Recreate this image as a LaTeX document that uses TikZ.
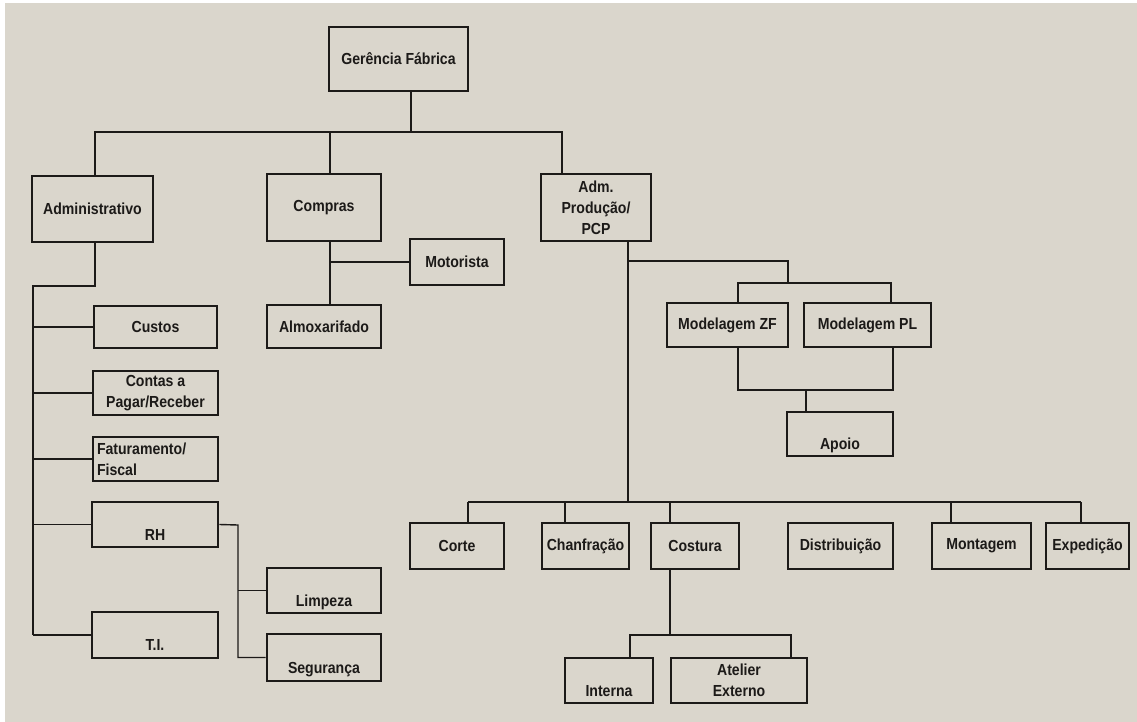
\documentclass[tikz,border=0pt]{standalone}
\usepackage{fontspec}
\setmainfont{Liberation Sans}[FakeStretch=0.88]
\usepackage{tikz}
\usetikzlibrary{calc,positioning}
\definecolor{paper}{RGB}{218,214,204}
\definecolor{ink}{RGB}{28,26,24}

\begin{document}
\begin{tikzpicture}[x=1pt, y=-1pt, lbl/.style={font=\bfseries\fontsize{16}{21}\selectfont, align=center, text=ink}]
\tikzstyle{box}=[draw=ink, line width=2.8pt, inner sep=3pt, lbl]
\tikzstyle{thin}=[box, line width=1.6pt]
\tikzstyle{low}=[text height=34pt, text depth=3pt]
\tikzstyle{wire}=[draw=ink, line width=1.4pt]
\useasboundingbox[fill=white] (0,0) rectangle (1137,722);
\fill[paper] (5,3) rectangle (1137,722);
\node[box, minimum width=139pt, minimum height=64pt] (ger) at (398.5,59){Gerência Fábrica};
\node[box, minimum width=121pt, minimum height=66pt] (adm) at (92.5,209){Administrativo};
\node[box, minimum width=114pt, minimum height=67pt] (com) at (324,207.5){Compras};
\node[thin, minimum width=110pt, minimum height=67pt] (pcp) at (596,207.5){Adm.\\Produção/\\PCP};
\node[box, minimum width=94pt, minimum height=46pt] (mot) at (457,262){Motorista};
\node[box, minimum width=114pt, minimum height=43pt] (alm) at (324,326.5){Almoxarifado};
\node[box, minimum width=123pt, minimum height=42pt] (cus) at (155.5,327){Custos};
\node[box, minimum width=125pt, minimum height=44pt] (con) at (155.5,393){Contas a\\Pagar/Receber};
\node[box, minimum width=125pt, minimum height=44pt, align=left, text width=117pt] (fat) at (155.5,459){Faturamento/\\Fiscal};
\node[box, low, minimum width=126pt, minimum height=45pt] (rh) at (155,524.5){RH};
\node[box, low, minimum width=126pt, minimum height=46pt] (ti) at (155,635){T.I.};
\node[box, low, minimum width=114pt, minimum height=45pt] (lim) at (324,590.5){Limpeza};
\node[box, low, minimum width=114pt, minimum height=47pt] (seg) at (324,657.5){Segurança};
\node[box, minimum width=121pt, minimum height=44pt] (mzf) at (727.5,325){Modelagem ZF};
\node[box, minimum width=127pt, minimum height=44pt] (mpl) at (867.5,325){Modelagem PL};
\node[box, low, minimum width=106pt, minimum height=44pt] (apo) at (840,434){Apoio};
\node[box, minimum width=94pt, minimum height=46pt] (cor) at (457,546){Corte};
\node[box, minimum width=87pt, minimum height=46pt] (cha) at (585.5,546){Chanfração};
\node[box, minimum width=88pt, minimum height=46pt] (cos) at (695,546){Costura};
\node[box, minimum width=105pt, minimum height=46pt] (dis) at (840.5,546){Distribuição};
\node[box, minimum width=99pt, minimum height=46pt] (mon) at (981.5,546){Montagem};
\node[box, minimum width=83pt, minimum height=46pt] (exp) at (1087.5,546){Expedição};
\node[thin, low, minimum width=88pt, minimum height=45pt] (int) at (609,680.5){Interna};
\node[thin, minimum width=136pt, minimum height=45pt] (ate) at (739,680.5){Atelier\\Externo};
\coordinate (j0) at (411,132);
\coordinate (b1) at (95,132);
\coordinate (b2) at (562,132);
\coordinate (c1) at (330,132);
\coordinate (a1) at (33,286);
\coordinate (r1) at (238,525);
\coordinate (p1) at (628,502);
\coordinate (p2) at (628,261);
\coordinate (m1) at (788,283);
\coordinate (m2) at (738,283);
\coordinate (m3) at (891,283);
\coordinate (a2) at (738,390);
\coordinate (a3) at (893,390);
\coordinate (a4) at (806,390);
\coordinate (k1) at (670,635);
\coordinate (k2) at (630,635);
\coordinate (k3) at (791,635);
\draw[wire] (ger.south -| j0) -- (j0);
\draw[wire] (adm.north -| b1) -- (b1) -- (b2) -- (pcp.north -| b2);
\draw[wire] (c1) -- (com.north -| c1);
\draw[wire] (com.south -| c1) -- (alm.north -| c1);
\draw[wire] (mot.west) -- (mot.west -| c1);
\draw[wire] (adm.south -| b1) |- (a1) -- (ti.west -| a1);
\foreach \n in {cus,con,fat,rh,ti}{
\draw[wire] (\n.west) -- (\n.west -| a1);
}
\draw[wire] (rh.east) -- (r1) |- (seg.west);
\draw[wire] (lim.west) -- (lim.west -| r1);
\draw[wire] (pcp.south -| p1) -- (p1);
\draw[wire] (p2) -| (m1);
\draw[wire] (mzf.north -| m2) -- (m2) -- (m3) -- (mpl.north -| m3);
\draw[wire] (mzf.south -| a2) -- (a2) -- (a3) -- (mpl.south -| a3);
\draw[wire] (a4) -- (apo.north -| a4);
\foreach \n/\x in {cor/468, cha/565, cos/670, mon/951, exp/1081}{
\coordinate (d\n) at (\x,502);
\draw[wire] (d\n) -- (\n.north -| d\n);
}
\draw[wire] (dcor) -- (dexp);
\draw[wire] (cos.south -| k1) -- (k1);
\draw[wire] (int.north -| k2) -- (k2) -- (k3) -- (ate.north -| k3);
\end{tikzpicture}
\end{document}
